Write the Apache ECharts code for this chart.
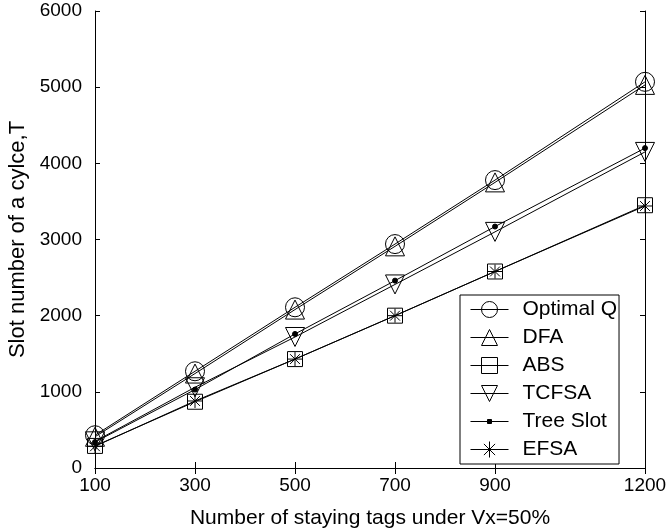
<!DOCTYPE html>
<html>
<head>
<meta charset="utf-8">
<script src="https://cdn.jsdelivr.net/npm/echarts@6/dist/echarts.min.js"></script>
<style>
  html, body { margin: 0; padding: 0; background: #fff; }
  #chart { width: 666px; height: 532px; }
</style>
</head>
<body>
<div id="chart"></div>
<script>
// number of staying tags (x) and slot numbers per algorithm (y)
const tags = [100, 300, 500, 700, 900, 1200]
const optimalQ = [430, 1270, 2110, 2940, 3780, 5070]
const dfa = [410, 1240, 2080, 2910, 3750, 5030]
const abs = [290, 870, 1430, 2000, 2580, 3450]
const tcfsa = [350, 1060, 1720, 2410, 3100, 4150]
const treeSlot = [340, 1030, 1760, 2460, 3170, 4200]
const efsa = [285, 880, 1430, 2000, 2580, 3440]
const yTicks = [0, 1000, 2000, 3000, 4000, 5000, 6000]

const font = 'Liberation Sans, Arial, sans-serif'
const star = 'path://M10,0L10,20M0,10L20,10M3,3L17,17M3,17L17,3'
const dotIcon = 'path://M0,0L0,0M38,20L38,20M0,10L38,10M17,8L21,8L21,12L17,12Z'

const chart = echarts.init(document.getElementById('chart'))

function makeSeries (name, values, symbol, size, opts) {
  return Object.assign({
    name,
    type: 'line',
    data: tags.map((t, i) => [t, values[i]]),
    symbol,
    symbolSize: size,
    lineStyle: { color: '#000', width: 1 },
    itemStyle: { color: 'rgba(0,0,0,0)', borderColor: '#000', borderWidth: 1 },
    emphasis: { disabled: true }
  }, opts || {})
}

const plain = v => String(v)

chart.setOption({
  animation: false,
  backgroundColor: '#fff',
  grid: { left: 95, right: 21, top: 11, bottom: 64, outerBoundsMode: 'none' },
  legend: {
    orient: 'vertical',
    left: 460,
    top: 295,
    itemWidth: 38,
    itemHeight: 20,
    itemGap: 7,
    padding: [4, 2, 4, 10],
    borderColor: '#000',
    borderWidth: 1,
    borderRadius: 0,
    backgroundColor: '#fff',
    itemStyle: { borderWidth: 1 },
    lineStyle: { width: 1 },
    textStyle: { fontFamily: font, fontSize: 21, color: '#000', padding: [0, 0, 0, 9] },
    data: [
      { name: 'Optimal Q' },
      { name: 'DFA' },
      { name: 'ABS' },
      { name: 'TCFSA' },
      { name: 'Tree Slot', icon: dotIcon },
      { name: 'EFSA' }
    ]
  },
  xAxis: [
    {
      type: 'value',
      min: 100,
      max: 1200,
      name: 'Number of staying tags under Vx=50%',
      nameLocation: 'middle',
      nameGap: 40,
      nameTextStyle: { fontFamily: font, fontSize: 21, color: '#000' },
      axisLine: { lineStyle: { color: '#000', width: 1 } },
      axisTick: { inside: true, length: 6, customValues: tags, lineStyle: { color: '#000' } },
      axisLabel: { customValues: tags, formatter: plain, margin: 8, fontFamily: font, fontSize: 19, color: '#000' },
      splitLine: { show: false }
    },
    {
      type: 'value',
      position: 'top',
      min: 100,
      max: 1200,
      axisLine: { lineStyle: { color: '#000', width: 1 } },
      axisTick: { inside: true, length: 6, customValues: tags, lineStyle: { color: '#000' } },
      axisLabel: { show: false },
      splitLine: { show: false }
    }
  ],
  yAxis: [
    {
      type: 'value',
      min: 0,
      max: 6000,
      interval: 1000,
      name: 'Slot number of a cylce,T',
      nameLocation: 'middle',
      nameGap: 65,
      nameTextStyle: { fontFamily: font, fontSize: 22, color: '#000' },
      axisLine: { show: true, lineStyle: { color: '#000', width: 1 } },
      axisTick: { show: true, inside: true, length: 5, customValues: yTicks, lineStyle: { color: '#000' } },
      axisLabel: { formatter: plain, margin: 13, fontFamily: font, fontSize: 19, color: '#000' },
      splitLine: { show: false }
    },
    {
      type: 'value',
      position: 'right',
      min: 0,
      max: 6000,
      interval: 1000,
      axisLine: { show: true, lineStyle: { color: '#000', width: 1 } },
      axisTick: { show: true, inside: true, length: 5, customValues: yTicks, lineStyle: { color: '#000' } },
      axisLabel: { show: false },
      splitLine: { show: false }
    }
  ],
  series: [
    makeSeries('Optimal Q', optimalQ, 'circle', 19),
    makeSeries('DFA', dfa, 'triangle', 19),
    makeSeries('ABS', abs, 'rect', 15),
    makeSeries('TCFSA', tcfsa, 'triangle', 19, { symbolRotate: 180 }),
    makeSeries('Tree Slot', treeSlot, 'circle', 5, {
      itemStyle: { color: '#000', borderColor: '#000', borderWidth: 1 }
    }),
    makeSeries('EFSA', efsa, star, 14)
  ]
})
</script>
</body>
</html>
